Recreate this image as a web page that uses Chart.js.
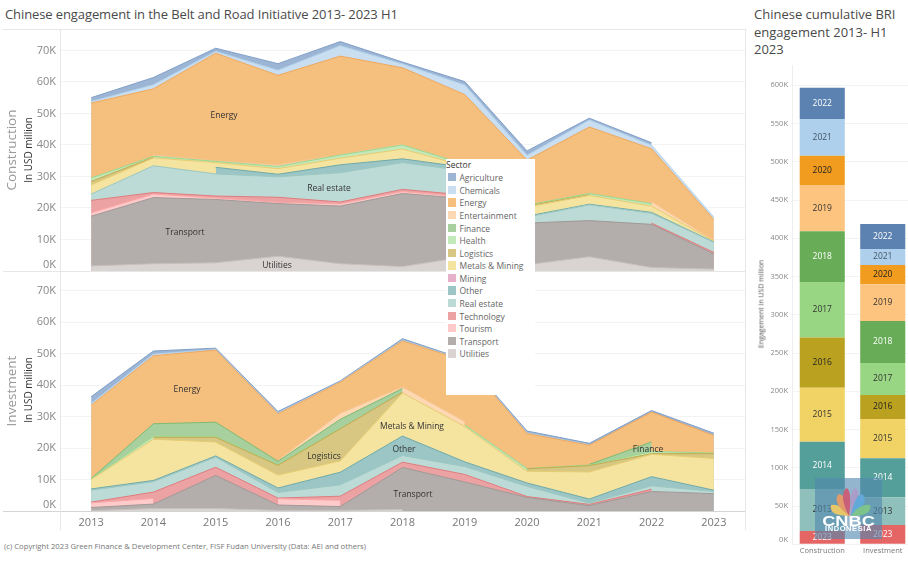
<!DOCTYPE html>
<html>
<head>
<meta charset="utf-8">
<script src="https://cdn.jsdelivr.net/npm/chart.js"></script>
<style>
    html,body{margin:0;padding:0;background:#fff;width:908px;height:562px;overflow:hidden;font-family:"Open Sans",sans-serif;}
    canvas{position:absolute;}
    .title{position:absolute;color:#4a4a4a;font-size:13px;line-height:17.5px;white-space:nowrap;}
    .line{position:absolute;background:#e6e6e6;}
    .rot{position:absolute;transform:translate(-50%,-50%) rotate(-90deg);white-space:nowrap;}
    .area-label{position:absolute;transform:translate(-50%,-50%);font-size:8.5px;color:#333;white-space:nowrap;}
    #legend{position:absolute;left:446px;top:159px;width:89px;height:236px;background:#fff;font-size:8.5px;color:#666;}
    #legend .head{position:absolute;left:0;top:0;color:#333;line-height:12px;}
    #legend .row{position:absolute;left:1.5px;height:9px;white-space:nowrap;line-height:9px;}
    #legend i{display:inline-block;width:8.5px;height:8.5px;margin-right:3.5px;vertical-align:top;}
    #footer{position:absolute;left:4px;top:541px;font-size:7.7px;color:#777;white-space:nowrap;}
    #logo{position:absolute;left:815px;top:478px;width:67px;height:61px;background:rgba(80,135,175,.62);color:#fff;text-align:center;font-family:"Liberation Sans",sans-serif;font-weight:bold;}
    #logo svg{position:absolute;left:12px;top:9px;}
    #logo .a{position:absolute;left:0;width:67px;top:36px;font-size:14px;line-height:14px;transform:scaleX(1.3);}
    #logo .b{position:absolute;left:0;width:67px;top:47px;font-size:7.5px;line-height:8px;letter-spacing:.6px;}
</style>
</head>
<body>
<div class="title" style="left:5px;top:6px;letter-spacing:-.1px">Chinese engagement in the Belt and Road Initiative 2013- 2023 H1</div>
<div class="title" style="left:754px;top:6px">Chinese cumulative BRI<br>engagement 2013- H1<br>2023</div>

<canvas id="construction" width="745" height="242" style="left:0;top:29px"></canvas>
<canvas id="investment" width="745" height="270" style="left:0;top:271px"></canvas>
<canvas id="cumulative" width="165" height="497" style="left:748px;top:65px"></canvas>

<div class="line" style="left:3px;top:29px;width:742px;height:1px"></div>
<div class="line" style="left:3px;top:271px;width:742px;height:1px"></div>
<div class="line" style="left:3px;top:511px;width:742px;height:1px;background:#d4d4d4"></div>
<div class="line" style="left:60px;top:29px;width:1px;height:501px"></div>
<div class="line" style="left:745px;top:29px;width:1px;height:501px"></div>

<div class="rot" style="left:11px;top:150px;font-size:13.5px;color:#999">Construction</div>
<div class="rot" style="left:28px;top:150px;font-size:10px;color:#333">In USD million</div>
<div class="rot" style="left:11px;top:391px;font-size:13.5px;color:#999">Investment</div>
<div class="rot" style="left:28px;top:390px;font-size:10px;color:#333">In USD million</div>
<div class="rot" style="left:761px;top:304px;font-size:7px;color:#555">Engagement in USD million</div>

<div class="area-label" style="left:224px;top:114px">Energy</div>
<div class="area-label" style="left:329px;top:187px">Real estate</div>
<div class="area-label" style="left:185px;top:231px">Transport</div>
<div class="area-label" style="left:277px;top:264px">Utilities</div>
<div class="area-label" style="left:187px;top:388px">Energy</div>
<div class="area-label" style="left:412px;top:425px">Metals &amp; Mining</div>
<div class="area-label" style="left:324px;top:455px">Logistics</div>
<div class="area-label" style="left:404px;top:448px">Other</div>
<div class="area-label" style="left:413px;top:493px">Transport</div>
<div class="area-label" style="left:648px;top:448px">Finance</div>

<div id="legend"><div class="head">Sector</div></div>
<div id="footer">(c) Copyright 2023 Green Finance &amp; Development Center, FISF Fudan University (Data: AEI and others)</div>

<div id="logo">
    <svg width="47" height="30" viewBox="0 0 43 28">
        <path d="M21 27 C8 27 2 24 3 17 C8 15 16 19 21 27Z" fill="#e8c66a"/>
        <path d="M21 27 C10 20 6 12 10 7 C15 5 20 15 21 27Z" fill="#e09a6c"/>
        <path d="M20 27 C13 14 13 4 18 1 C22 3 22 15 20 27Z" fill="#c8607a"/>
        <path d="M22 27 C21 15 21 3 26 1 C31 4 30 14 22 27Z" fill="#a99cc9"/>
        <path d="M22 27 C24 15 28 5 33 7 C38 12 33 20 22 27Z" fill="#62a8d8"/>
        <path d="M22 27 C27 19 35 15 40 17 C41 24 35 27 22 27Z" fill="#7cc48c"/>
    </svg>
    <div class="a">CNBC</div>
    <div class="b">INDONESIA</div>
</div>

<script>
const years = ['2013','2014','2015','2016','2017','2018','2019','2020','2021','2022','2023'];
const yTicks = [0,10000,20000,30000,40000,50000,60000,70000];

// legend order, top of the stack first
const sectors = ['Agriculture','Chemicals','Energy','Entertainment','Finance','Health','Logistics','Metals & Mining','Mining','Other','Real estate','Technology','Tourism','Transport','Utilities'];
const fills = ['#9db5d4','#c9dff1','#f5bf7e','#fdd8b3','#a8d09e','#c3e8ba','#d7c782','#f5e3a0','#e5b0c8','#9cc6c5','#bddbd6','#eca2a3','#ffcaca','#b3aeab','#d9d4d2'];
const edges = ['#7f9fc8','#b2d2ec','#efa95e','#f8c592','#7fbb72','#9cd88e','#c2aa4e','#e6cd72','#d68cae','#6fabaa','#9cc8c2','#e07c7e','#fba6a6','#a09a97','#c6c0bd'];

// construction, USD million
const cAgriculture = [1200,2300,1000,2100,1300,600,1100,1400,600,800,null];
const cChemicals = [500,1300,600,1600,3300,1200,3000,1500,2200,1100,800];
const cEnergy = [23800,21000,34100,28400,31300,24300,22100,14300,21100,16800,6600];
const cEntertainment = [null,400,200,500,100,200,null,null,null,600,200];
const cFinance = [null,null,null,null,null,null,null,null,null,null,null];
const cHealth = [1100,300,400,700,1000,1300,500,300,400,800,null];
const cLogistics = [1100,200,null,null,null,null,null,300,200,null,null];
const cMetals = [2900,2500,1500,1800,2100,3100,500,2900,2800,2000,300];
const cMining = [null,null,null,null,null,null,null,null,null,null,null];
const cOther = [null,null,2100,800,2500,1200,1100,300,200,300,100];
const cRealEstate = [2000,8500,7000,6500,9300,8500,7700,1900,5000,3100,3200];
const cTechnology = [3900,500,600,1600,600,700,600,null,null,400,500];
const cTourism = [1100,1100,500,400,700,600,500,null,null,null,null];
const cTransport = [15800,21000,20100,16700,18300,23200,18500,13200,11500,13700,4800];
const cUtilities = [1600,2300,2600,4700,2300,1400,4500,2000,4500,1100,600];

// investment, USD million
const iAgriculture = [2200,1000,400,500,300,500,300,600,500,500,600];
const iChemicals = [500,500,200,200,100,200,100,200,100,null,100];
const iEnergy = [23300,21600,22900,14800,9900,14600,19300,11100,6100,9500,5600];
const iEntertainment = [null,null,null,300,1900,500,1100,null,null,null,null];
const iFinance = [100,4000,4500,1100,2800,1200,null,null,200,3000,null];
const iHealth = [200,300,300,200,200,null,500,100,200,700,200];
const iLogistics = [null,600,1500,3100,10200,200,null,800,2000,200,1500];
const iMetals = [3000,13100,4400,4100,3600,13700,11200,3700,8600,7100,10100];
const iMining = [null,null,null,null,null,null,null,null,null,null,null];
const iOther = [400,400,400,1400,4000,6200,1500,1100,1300,2900,400];
const iRealEstate = [3800,3300,3200,1800,3600,2100,2500,3200,400,1100,700];
const iTechnology = [200,2000,2600,200,1300,1700,2400,300,400,700,null];
const iTourism = [1500,1800,null,2000,2000,null,null,null,null,null,null];
const iTransport = [1000,1400,10500,1700,1200,13300,9200,4300,1700,6200,5500];
const iUtilities = [100,800,800,200,200,500,null,null,null,null,null];

// cumulative bars, bottom segment first
const barCategories = ['Construction','Investment'];
const barYears = ['2023','2013','2014','2015','2016','2017','2018','2019','2020','2021','2022'];
const barConstruction = [17400,55000,61700,70600,65700,72300,66600,60200,38300,48000,41000];
const barInvestment = [25200,36200,51000,51400,31400,41800,55000,47900,25100,21000,32700];
const barColors = ['#e56464','#90c0bb','#559f9a','#f1d365','#baa220','#99d684','#68ac57','#fdc47f','#f29c1f','#aed0ec','#5b82b0'];
const barTextColors = ['#fff','#333','#fff','#333','#222','#333','#fff','#333','#222','#456','#fff'];
const barTicks = [0,50000,100000,150000,200000,250000,300000,350000,400000,450000,500000,550000,600000];

const constructionSeries = [cAgriculture,cChemicals,cEnergy,cEntertainment,cFinance,cHealth,cLogistics,cMetals,cMining,cOther,cRealEstate,cTechnology,cTourism,cTransport,cUtilities];
const investmentSeries = [iAgriculture,iChemicals,iEnergy,iEntertainment,iFinance,iHealth,iLogistics,iMetals,iMining,iOther,iRealEstate,iTechnology,iTourism,iTransport,iUtilities];

function kLabel(v){
    const t = (v/1000) + 'K';
    // two lines push the 0K label up off the baseline, as in the original
    return v === 0 ? [t,''] : t;
}

function areaChart(id, series, yMax, showYears){
    // bottom of the stack first: it is drawn last, so the steps at missing years stay on top
    const datasets = [];
    for(let i = series.length-1; i >= 0; i--){
        datasets.push({
            label: sectors[i],
            data: series[i],
            fill: 'origin',
            backgroundColor: fills[i],
            borderColor: edges[i],
            borderWidth: 1,
            pointRadius: 0,
            tension: 0,
            spanGaps: false
        });
    }
    new Chart(document.getElementById(id), {
        type: 'line',
        data: {labels: years, datasets: datasets},
        options: {
            responsive: false,
            animation: false,
            layout: {padding: 0},
            plugins: {legend: {display: false}, tooltip: {enabled: false}},
            scales: {
                x: {
                    display: showYears,
                    offset: true,
                    grid: {display: false, drawTicks: false},
                    border: {display: false},
                    ticks: {color: '#777', font: {family: 'Open Sans', size: 11}, padding: 5, maxRotation: 0},
                    afterFit: s => { s.height = showYears ? 30 : 0; s.paddingLeft = 0; s.paddingRight = 0; }
                },
                y: {
                    stacked: true,
                    min: 0,
                    max: yMax,
                    afterBuildTicks: s => { s.ticks = yTicks.map(v => ({value: v})); },
                    afterFit: s => { s.width = 60; s.paddingTop = 0; s.paddingBottom = 0; },
                    grid: {color: '#f3f3f3', drawTicks: false},
                    border: {display: false},
                    ticks: {color: '#888', font: {family: 'Open Sans', size: 11}, padding: 4, callback: kLabel}
                }
            }
        }
    });
}

areaChart('construction', constructionSeries, 76800, false);
areaChart('investment', investmentSeries, 76200, true);

const barLabels = {
    id: 'barLabels',
    afterDatasetsDraw(chart){
        const ctx = chart.ctx;
        ctx.save();
        ctx.font = '8.5px "Open Sans"';
        ctx.textAlign = 'center';
        ctx.textBaseline = 'middle';
        chart.data.datasets.forEach((ds, i) => {
            chart.getDatasetMeta(i).data.forEach(bar => {
                const c = bar.getCenterPoint();
                ctx.fillStyle = barTextColors[i];
                ctx.fillText(ds.label, c.x, c.y);
            });
        });
        ctx.restore();
    }
};

new Chart(document.getElementById('cumulative'), {
    type: 'bar',
    data: {
        labels: barCategories,
        datasets: barYears.map((y, i) => ({
            label: y,
            data: [barConstruction[i], barInvestment[i]],
            backgroundColor: barColors[i],
            barPercentage: 0.745,
            categoryPercentage: 1
        }))
    },
    plugins: [barLabels],
    options: {
        responsive: false,
        animation: false,
        layout: {padding: 0},
        plugins: {legend: {display: false}, tooltip: {enabled: false}},
        scales: {
            x: {
                stacked: true,
                grid: {display: false, drawTicks: false},
                border: {display: false},
                ticks: {color: '#777', font: {family: 'Open Sans', size: 7.5}, padding: 2, maxRotation: 0},
                afterFit: s => { s.height = 17.7; s.paddingLeft = 0; s.paddingRight = 0; }
            },
            y: {
                stacked: true,
                min: 0,
                max: 626500,
                afterBuildTicks: s => { s.ticks = barTicks.map(v => ({value: v})); },
                afterFit: s => { s.width = 44; s.paddingTop = 0; s.paddingBottom = 0; },
                grid: {color: '#f3f3f3', drawTicks: false},
                border: {display: true, color: '#eee'},
                ticks: {color: '#888', font: {family: 'Open Sans', size: 7.5}, padding: 4, callback: kLabel}
            }
        }
    }
});

// legend, built from the sector list
const legend = document.getElementById('legend');
const legendRows = [18,31,43.5,56,69,81,94,106.5,119,131.5,144,157,169,182,194.5];
sectors.forEach((name, i) => {
    const row = document.createElement('div');
    row.className = 'row';
    row.style.top = (legendRows[i] - 4.5) + 'px';
    const swatch = document.createElement('i');
    swatch.style.background = fills[i];
    row.appendChild(swatch);
    row.appendChild(document.createTextNode(name));
    legend.appendChild(row);
});
</script>
</body>
</html>
